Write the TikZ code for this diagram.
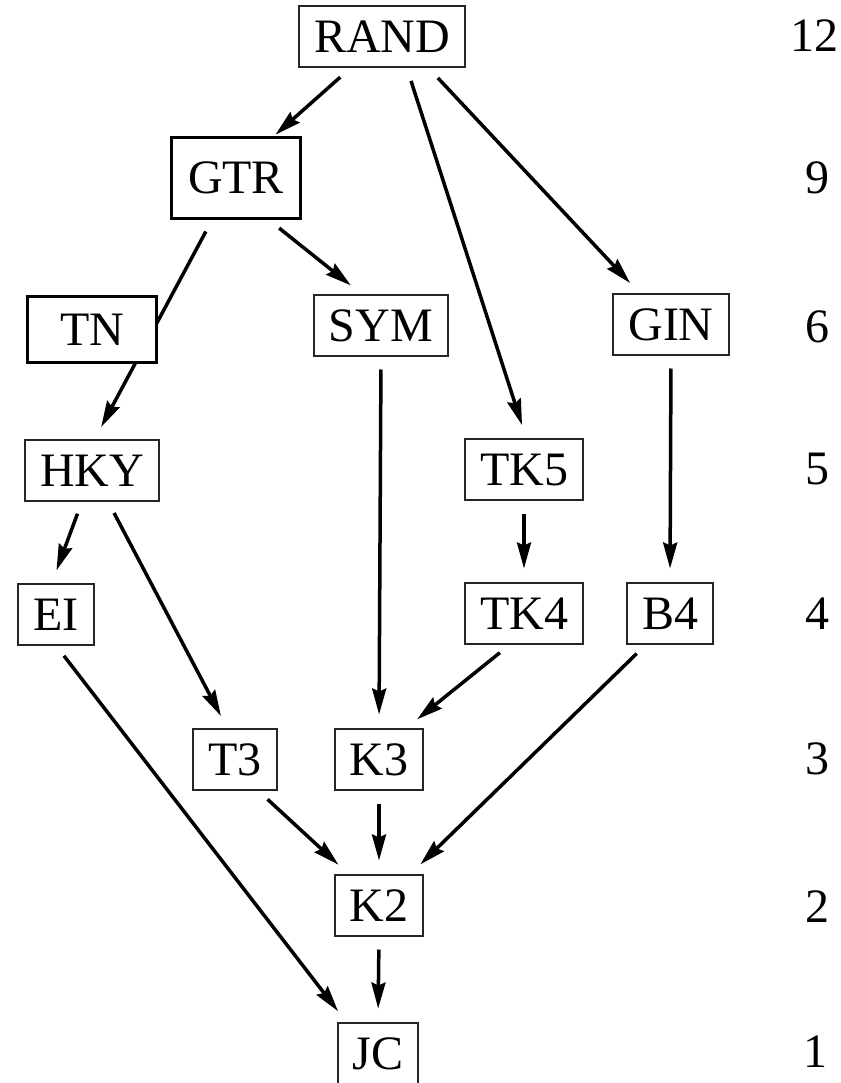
\documentclass[tikz,border=0pt]{standalone}
\usepackage{fontspec}
\setmainfont{Liberation Serif}
\usetikzlibrary{arrows.meta}

\tikzset{
  model/.style={draw=black!85, line width=2pt, inner xsep=15pt, inner ysep=0pt,
    minimum height=61pt, text height=32pt, text depth=0pt},
  bigmodel/.style={model, draw=black, line width=3pt, minimum width=129pt},
  level/.style={inner sep=0pt, text height=32pt, text depth=0pt},
  arr/.style={line width=3.5pt, -{Stealth[length=26pt,width=14pt,inset=3pt]},
    shorten <=13pt, shorten >=13pt}
}

\begin{document}
\begin{tikzpicture}[x=1pt,y=-1pt,font=\fontsize{48}{48}\selectfont]
\useasboundingbox (0,0) rectangle (840,1083);
% models
\node[model] (rand) at (382,37) {RAND};
\node[bigmodel,minimum height=81pt] (gtr) at (236,178) {GTR};
\node[model] (sym) at (381,325) {SYM};
\node[model] (gin) at (671,324) {GIN};
\node[model] (hky) at (92,470) {HKY};
\node[model] (tk5) at (524,469) {TK5};
\node[model] (ei) at (56,614) {EI};
\node[model] (tk4) at (524,613) {TK4};
\node[model] (b4) at (670,613) {B4};
\node[model] (t3) at (235,759) {T3};
\node[model] (k3) at (379,759) {K3};
\node[model] (k2) at (379,905) {K2};
\node[model] (jc) at (378,1053) {JC};
% number of parameters
\node[level] (p12) at (814,36) {12};
\node[level] (p9) at (817,178) {9};
\node[level] (p6) at (817,326) {6};
\node[level] (p5) at (817,468) {5};
\node[level] (p4) at (817,613) {4};
\node[level] (p3) at (817,758) {3};
\node[level] (p2) at (817,906) {2};
\node[level] (p1) at (815,1051) {1};
% arrows
\draw[arr,shorten >=2pt] ([xshift=-32pt]rand.south) -- ([xshift=38pt]gtr.north);
\draw[arr] ([xshift=25pt]rand.south) -- ([xshift=2pt]tk5.north);
\draw[arr] ([xshift=47pt]rand.south) -- ([xshift=-32pt]gin.north);
\draw[arr] ([xshift=33pt]gtr.south) -- ([xshift=-20pt]sym.north);
\draw[arr] ([xshift=-24pt]gtr.south) -- ([xshift=3pt]hky.north);
\draw[arr] (sym.south) -- (k3.north);
\draw[arr] (gin.south) -- (b4.north);
\draw[arr] (tk5.south) -- (tk4.north);
\draw[arr] ([xshift=-10pt]hky.south) -- ([xshift=-4pt]ei.north);
\draw[arr] ([xshift=16pt]hky.south) -- ([xshift=-8pt]t3.north);
\draw[arr] ([xshift=-14pt]tk4.south) -- ([xshift=28pt]k3.north);
\draw[arr] ([xshift=-24pt]b4.south) -- ([xshift=32pt]k2.north);
\draw[arr] (ei.south) -- ([xshift=-32pt]jc.north);
\draw[arr] ([xshift=23pt]t3.south) -- ([xshift=-31pt]k2.north);
\draw[arr] (k3.south) -- (k2.north);
\draw[arr] (k2.south) -- (jc.north);
% TN box lies over the GTR--HKY arrow
\node[bigmodel,fill=white,minimum height=66pt] (tn) at (92,329) {TN};
\end{tikzpicture}
\end{document}
